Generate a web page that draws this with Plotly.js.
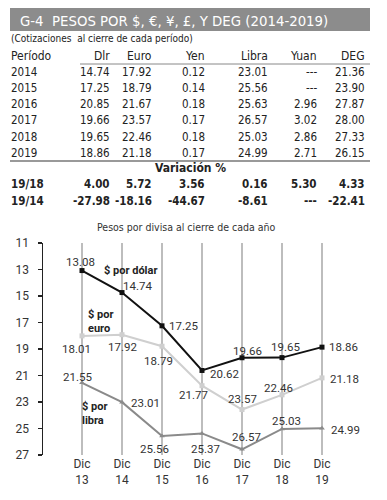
<!DOCTYPE html>
<html>
<head>
<meta charset="utf-8">
<script src="https://cdn.plot.ly/plotly-3.0.1.min.js"></script>
<style>html,body{margin:0;padding:0;background:#fff;}#chart{width:387px;height:500px;}</style>
</head>
<body>
<div id="chart"></div>
<script>
// ---- Table data ----
const tableTitle = 'G-4  PESOS POR $, €, ¥, £, Y DEG (2014-2019)';
const tableSubtitle = '(Cotizaciones  al cierre de cada período)';
const colHeaders = ['Período', 'Dlr', 'Euro', 'Yen', 'Libra', 'Yuan', 'DEG'];
const years = ['2014', '2015', '2016', '2017', '2018', '2019'];
const dlr   = ['14.74', '17.25', '20.85', '19.66', '19.65', '18.86'];
const euro  = ['17.92', '18.79', '21.67', '23.57', '22.46', '21.18'];
const yen   = ['0.12', '0.14', '0.18', '0.17', '0.18', '0.17'];
const libra = ['23.01', '25.56', '25.63', '26.57', '25.03', '24.99'];
const yuan  = ['---', '---', '2.96', '3.02', '2.86', '2.71'];
const deg   = ['21.36', '23.90', '27.87', '28.00', '27.33', '26.15'];
const varTitle = 'Variación %';
const varLabels = ['19/18', '19/14'];
const varDlr   = ['4.00', '-27.98'];
const varEuro  = ['5.72', '-18.16'];
const varYen   = ['3.56', '-44.67'];
const varLibra = ['0.16', '-8.61'];
const varYuan  = ['5.30', '---'];
const varDeg   = ['4.33', '-22.41'];

// ---- Chart data ----
const chartTitle = 'Pesos por divisa al cierre de cada año';
const periods = ['Dic<br>13', 'Dic<br>14', 'Dic<br>15', 'Dic<br>16', 'Dic<br>17', 'Dic<br>18', 'Dic<br>19'];
const usdPeso = [13.08, 14.74, 17.25, 20.62, 19.66, 19.65, 18.86];
const eurPeso = [18.01, 17.92, 18.79, 21.77, 23.57, 22.46, 21.18];
const gbpPeso = [21.55, 23.01, 25.56, 25.37, 26.57, 25.03, 24.99];
const yTicks = [11, 13, 15, 17, 19, 21, 23, 25, 27];

// ---- layout helpers ----
const W = 387, H = 500;
const px = x => x / W;
const py = y => 1 - y / H;
const NARROW = '"Liberation Sans Narrow", "DejaVu Sans Condensed", "Roboto", sans-serif';
const SANS = 'Roboto, "Noto Sans", sans-serif';
const TS = 11.5;

const annotations = [];
const shapes = [];

function txt(x, y, text, opts) {
  annotations.push(Object.assign({
    xref: 'paper', yref: 'paper', x: px(x), y: py(y), text: text, showarrow: false,
    xanchor: 'left', yanchor: 'middle',
    font: {family: NARROW, size: TS, color: '#222'}
  }, opts || {}));
}

// title bar
shapes.push({type: 'rect', xref: 'paper', yref: 'paper', x0: px(10), x1: px(370), y0: py(31), y1: py(8),
  fillcolor: '#8c8c8c', line: {width: 0}, layer: 'below'});
txt(18, 20, tableTitle, {font: {family: NARROW, size: 14.8, color: '#fff'}});
txt(9, 39, tableSubtitle, {font: {family: NARROW, size: 10, color: '#222'}});

// table columns
const colRight = [null, 112, 154, 207, 270, 319, 367];
const rowY = [72, 88, 104, 120, 137, 153];
txt(9, 56, colHeaders[0], {font: {family: NARROW, size: 12, color: '#222'}});
for (let c = 1; c < colHeaders.length; c++) {
  txt(colRight[c], 56, colHeaders[c], {xanchor: 'right', font: {family: NARROW, size: 12, color: '#222'}});
}
shapes.push({type: 'line', xref: 'paper', yref: 'paper', x0: px(80), x1: px(370), y0: py(64), y1: py(64),
  line: {color: '#888', width: 1}});

const cols = [dlr, euro, yen, libra, yuan, deg];
for (let r = 0; r < years.length; r++) {
  txt(9, rowY[r], years[r]);
  cols.forEach((arr, i) => {
    txt(colRight[i + 1], rowY[r], arr[r], {xanchor: 'right'});
  });
}
shapes.push({type: 'line', xref: 'paper', yref: 'paper', x0: px(10), x1: px(370), y0: py(161), y1: py(161),
  line: {color: '#777', width: 1.5}});
txt(190, 168, '<b>' + varTitle + '</b>', {xanchor: 'center', font: {family: NARROW, size: 12, color: '#222'}});

const varCols = [varDlr, varEuro, varYen, varLibra, varYuan, varDeg];
const varY = [184, 201];
for (let r = 0; r < varLabels.length; r++) {
  txt(9, varY[r], '<b>' + varLabels[r] + '</b>', {font: {family: NARROW, size: 11.5, color: '#222'}});
  varCols.forEach((arr, i) => {
    txt(colRight[i + 1], varY[r], '<b>' + arr[r] + '</b>', {xanchor: 'right', font: {family: NARROW, size: 11.5, color: '#222'}});
  });
}

// chart title
txt(186, 227, chartTitle, {xanchor: 'center', font: {family: NARROW, size: 10.5, color: '#333'}});

// data labels: [xshift, yshift] per point
const usdOff = [[-2, 9], [15, 7], [21, 0], [22, -4], [5, 7], [3, 11], [21, 0]];
const eurOff = [[-6, -13], [0, -12], [-4, -15], [-9, -9], [0, 11], [-4, 7], [22, -1]];
const gbpOff = [[-5, 6], [23, -1], [-8, -13], [3, -16], [4, 12], [4, 8], [23, -2]];
function labels(vals, offs) {
  vals.forEach((v, i) => {
    annotations.push({xref: 'x', yref: 'y', x: periods[i], y: v, text: v.toFixed(2), showarrow: false,
      xshift: offs[i][0], yshift: offs[i][1], font: {family: SANS, size: 11.5, color: '#333'}});
  });
}
labels(usdPeso, usdOff);
labels(eurPeso, eurOff);
labels(gbpPeso, gbpOff);

// series name labels
txt(102, 270, '<b>$ por dólar</b>', {font: {family: SANS, size: 11, color: '#222'}});
txt(86, 321, '<b>$ por<br>euro</b>', {font: {family: SANS, size: 11, color: '#222'}, align: 'left'});
txt(80, 413, '<b>$ por<br>libra</b>', {font: {family: SANS, size: 11, color: '#222'}, align: 'left'});

const traces = [
  {x: periods, y: gbpPeso, type: 'scatter', mode: 'lines+markers',
   line: {color: '#8a8a8a', width: 2}, marker: {color: '#8a8a8a', size: 5, symbol: 'triangle-up'}},
  {x: periods, y: eurPeso, type: 'scatter', mode: 'lines+markers',
   line: {color: '#cfcfcf', width: 2}, marker: {color: '#cfcfcf', size: 5, symbol: 'square'}},
  {x: periods, y: usdPeso, type: 'scatter', mode: 'lines+markers',
   line: {color: '#111', width: 2}, marker: {color: '#111', size: 5, symbol: 'square'}}
];

const layout = {
  width: W, height: H,
  margin: {l: 0, r: 0, t: 0, b: 0},
  paper_bgcolor: '#fff', plot_bgcolor: '#fff',
  showlegend: false,
  xaxis: {
    type: 'category', domain: [px(43), px(346)], range: [-0.975, 6.6],
    showgrid: true, gridcolor: '#bdbdbd', gridwidth: 1.5,
    showline: false, zeroline: false, ticks: '',
    tickfont: {family: SANS, size: 12, color: '#333'},
    anchor: 'y', fixedrange: true
  },
  yaxis: {
    domain: [py(455), py(243)], range: [27, 11], autorange: false,
    tickvals: yTicks, ticktext: yTicks.map(String),
    showgrid: false, zeroline: false,
    showline: true, linecolor: '#222', linewidth: 1.5,
    ticks: 'outside', ticklen: 4, tickcolor: '#222', tickwidth: 1.5,
    ticklabelstandoff: 6,
    tickfont: {family: SANS, size: 12, color: '#333'},
    anchor: 'x', position: 0
  },
  annotations: annotations,
  shapes: shapes
};

Plotly.newPlot('chart', traces, layout, {displayModeBar: false, staticPlot: true});
</script>
</body>
</html>
